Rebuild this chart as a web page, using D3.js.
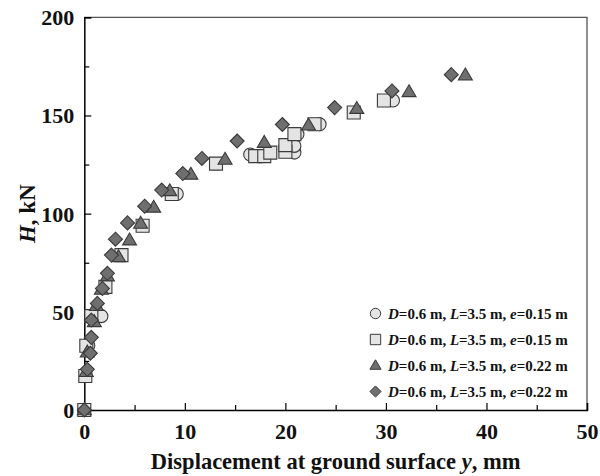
<!DOCTYPE html>
<html>
<head>
<meta charset="utf-8">
<script src="https://cdn.jsdelivr.net/npm/d3@7"></script>
<style>
  html, body { margin: 0; padding: 0; background: #fff; }
  svg text { font-family: "Liberation Serif", "Times New Roman", serif; font-weight: bold; fill: #111; }
</style>
</head>
<body>
<svg id="chart" width="600" height="476"></svg>
<script>
// Load–displacement measurements, [displacement y (mm), H (kN)]
const circleSeries = [[0,0],[0.4,32.7],[1.7,47.8],[9.2,110],[16.5,130.1],[20.9,131.1],[20.9,134.5],[21.2,140.5],[23.4,145.5],[30.7,157.6]];
const squareSeries = [[0,0],[0.1,17.3],[0.2,32.7],[0.7,47.8],[2.1,62.7],[3.7,78.9],[5.8,93.8],[8.7,110],[13.1,125.5],[17.0,129.3],[17.9,129.3],[18.5,131.1],[20.0,131.5],[20.0,134.9],[20.9,140.5],[22.9,145.5],[26.8,151.5],[29.8,157.6]];
const triangleSeries = [[0,0],[0.2,19.5],[0.3,29.4],[1.0,44.9],[1.2,53.1],[1.7,61.4],[2.3,68.2],[3.4,78],[4.5,86.5],[5.6,95],[6.9,103.2],[8.5,111.6],[10.6,120],[14.0,127.6],[17.9,136.2],[22.3,145],[27.1,153.5],[32.3,162],[37.9,170.5]];
const diamondSeries = [[0,0],[0.3,20.7],[0.6,28.9],[0.7,37],[0.7,45.8],[1.3,54.3],[1.8,61.9],[2.3,69.6],[2.7,78.9],[3.1,87],[4.3,95.3],[6.0,103.8],[7.7,112],[9.8,120.4],[11.7,128.1],[15.2,137],[19.7,145.4],[24.9,154],[30.6,162.5],[36.5,170.8]];

const xTicks = [0, 10, 20, 30, 40, 50];
const xMinorTicks = [5, 15, 25, 35, 45];
const yTicks = [0, 50, 100, 150, 200];
const yMinorTicks = [25, 75, 125, 175];

const legendLabels = [
  [["D","=0.6 m, "],["L","=3.5 m, "],["e","=0.15 m"]],
  [["D","=0.6 m, "],["L","=3.5 m, "],["e","=0.15 m"]],
  [["D","=0.6 m, "],["L","=3.5 m, "],["e","=0.22 m"]],
  [["D","=0.6 m, "],["L","=3.5 m, "],["e","=0.22 m"]]
];

const svg = d3.select("#chart");
const plotL = 84.3, plotR = 587, plotT = 17.3, plotB = 410;

const x = d3.scaleLinear().domain([0, 50]).range([plotL, plotR]);
const y = d3.scaleLinear().domain([0, 200]).range([plotB, plotT]);

const light = "#e4e4e4", dark = "#6f6f6f", edge = "#3a3a3a";

// marker shapes
const shapes = {
  circle: (s) => d3.symbol().type(d3.symbolCircle).size(Math.PI * (s/2) * (s/2))(),
  square: (s) => d3.symbol().type(d3.symbolSquare).size(s * s)(),
  triangle: (s) => { const h = s * 0.85; return `M0,${-h*0.6}L${s/2},${h*0.4}L${-s/2},${h*0.4}Z`; },
  diamond: (s) => { const r = s / 2; return `M0,${-r}L${r},0L0,${r}L${-r},0Z`; }
};

const series = [
  { data: circleSeries, shape: "circle", fill: light, size: 13 },
  { data: squareSeries, shape: "square", fill: light, size: 13 },
  { data: triangleSeries, shape: "triangle", fill: dark, size: 14 },
  { data: diamondSeries, shape: "diamond", fill: dark, size: 14 }
];

// frame: top and right sides
svg.append("path")
  .attr("d", `M${plotL},${plotT}H${plotR}V${plotB}`)
  .attr("fill", "none").attr("stroke", "#555").attr("stroke-width", 1.3);

// axes
const xAxis = svg.append("g").attr("transform", `translate(0,${plotB})`)
  .call(d3.axisBottom(x).tickValues(xTicks).tickSize(-7).tickPadding(13).tickFormat(d3.format("d")));
svg.append("g").attr("transform", `translate(0,${plotB})`)
  .call(d3.axisBottom(x).tickValues(xMinorTicks).tickSize(-5).tickFormat(""))
  .call(g => g.select(".domain").remove());

const yAxis = svg.append("g").attr("transform", `translate(${plotL},0)`)
  .call(d3.axisLeft(y).tickValues(yTicks).tickSize(-7).tickPadding(10).tickFormat(d3.format("d")));
svg.append("g").attr("transform", `translate(${plotL},0)`)
  .call(d3.axisLeft(y).tickValues(yMinorTicks).tickSize(-5).tickFormat(""))
  .call(g => g.select(".domain").remove());

svg.selectAll(".domain").attr("stroke", "#000").attr("stroke-width", 1.5);
svg.selectAll(".tick line").attr("stroke", "#000").attr("stroke-width", 1.2);
[xAxis, yAxis].forEach(a => a.selectAll("text")
  .attr("font-size", 22)
  .style("font-family", "'Liberation Serif', 'Times New Roman', serif")
  .style("font-weight", "bold").attr("fill", "#111"));
xAxis.selectAll("text").attr("dy", "0.71em");
yAxis.selectAll("text").attr("dy", "0.34em");

// axis titles
const xt = svg.append("text").attr("x", (plotL + plotR) / 2).attr("y", 468.5)
  .attr("text-anchor", "middle").attr("font-size", 22.5);
xt.append("tspan").text("Displacement at ground surface ");
xt.append("tspan").attr("font-style", "italic").text("y");
xt.append("tspan").text(", mm");

const yt = svg.append("text").attr("transform", `translate(35,${(plotT + plotB) / 2}) rotate(-90)`)
  .attr("text-anchor", "middle").attr("font-size", 23);
yt.append("tspan").attr("font-style", "italic").text("H");
yt.append("tspan").text(", kN");

// data markers
series.forEach(s => {
  svg.append("g").selectAll("path").data(s.data).join("path")
    .attr("transform", d => `translate(${x(d[0])},${y(d[1])})`)
    .attr("d", shapes[s.shape](s.size))
    .attr("fill", s.fill).attr("stroke", edge).attr("stroke-width", 1.1);
});

// legend
const legend = svg.append("g");
const rowY = [313.5, 339.5, 365.5, 391.5];
series.forEach((s, i) => {
  legend.append("path")
    .attr("transform", `translate(375.5,${rowY[i]})`)
    .attr("d", shapes[s.shape](s.size * 0.8))
    .attr("fill", s.fill).attr("stroke", edge).attr("stroke-width", 1);
  const t = legend.append("text").attr("x", 388).attr("y", rowY[i] + 5).attr("font-size", 15);
  legendLabels[i].forEach(([v, rest]) => {
    t.append("tspan").attr("font-style", "italic").text(v);
    t.append("tspan").text(rest);
  });
});
</script>
</body>
</html>
